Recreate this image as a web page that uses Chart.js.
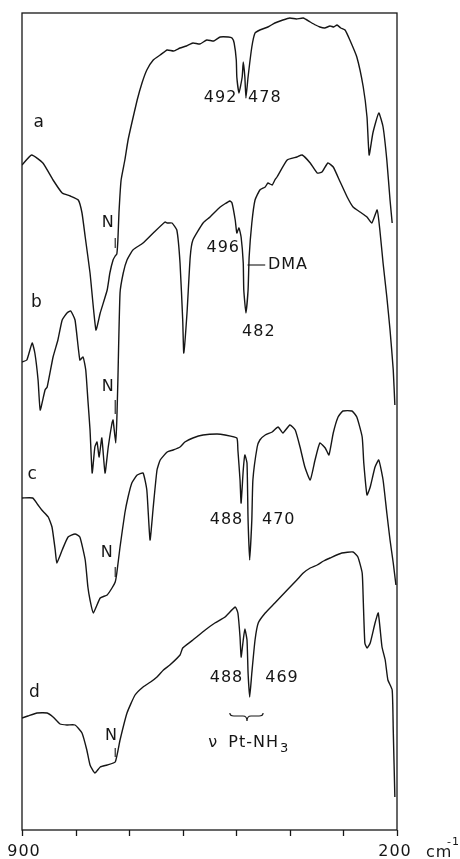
<!DOCTYPE html>
<html><head><meta charset="utf-8">
<script src="https://cdn.jsdelivr.net/npm/chart.js@4/dist/chart.umd.min.js"></script>
<style>html,body{margin:0;padding:0;background:#fff;}#wrap{width:460px;height:859px;}</style>
</head><body><div id="wrap"><canvas id="c" width="460" height="859"></canvas></div>
<script>
// Spectrum labels (categories)
const spectra = ['a', 'b', 'c', 'd'];

// Wavenumbers (cm-1) and relative transmittance (offset, arbitrary units) for each trace
const aWn  = [900,882,861,842,825,810,795,788,782,773,762,754,741,736,730,726,723,721,719,715,708,702,695,685,676,667,655,642,629,617,605,593,581,568,555,542,530,515,508,504,500,499,495,489,487,484,482,478,471,465,456,441,428,413,400,388,375,362,352,344,335,325,318,312,305,297,288,275,263,256,252,245,234,226,219,213,209];
const aVal = [665,675,667,650,637,634,630,617,593,557,500,517,540,557,570,574,576,590,617,650,670,690,707,730,747,760,770,775,780,779,782,784,787,786,790,789,793,793,792,787,770,753,737,753,768,753,732,753,783,797,800,803,807,810,812,811,812,808,805,803,802,804,803,805,802,800,790,773,743,713,675,697,717,703,670,630,607];

const bWn  = [900,891,881,876,870,866,857,853,842,833,825,816,809,801,792,786,781,777,773,769,764,760,756,751,745,739,732,730,725,723,721,717,711,704,693,674,655,633,629,620,611,605,600,598,592,586,581,562,549,530,512,508,502,499,495,491,487,486,482,478,476,471,465,456,446,441,433,428,424,405,387,377,362,349,340,329,319,306,293,282,269,256,247,237,232,226,219,213,207,204];
const bVal = [468,470,487,477,450,420,440,443,473,490,510,517,519,510,470,473,460,430,400,357,383,388,373,392,357,383,407,410,387,410,450,537,557,570,580,587,597,608,607,607,600,567,510,477,517,573,590,607,613,623,629,627,610,597,602,593,567,540,517,540,573,607,630,640,643,647,645,650,653,670,673,675,667,657,658,667,663,648,633,623,618,613,607,620,600,567,533,500,460,425];

const cWn  = [900,880,870,863,851,844,838,835,825,814,801,792,782,777,773,767,754,741,732,726,723,717,708,702,695,685,674,667,661,655,648,642,629,618,605,596,581,562,536,521,499,497,493,491,487,484,480,478,475,471,469,461,456,446,433,422,413,400,390,381,372,362,353,344,334,327,319,310,301,284,275,265,262,256,250,241,234,226,219,213,207,202];
const cVal = [332,332,325,320,313,303,280,267,280,293,296,293,270,243,230,217,232,235,242,248,257,283,317,333,347,355,357,340,290,323,360,370,378,380,383,388,392,395,396,395,392,380,350,327,360,375,367,310,270,310,350,383,390,395,398,403,397,405,400,383,363,350,370,387,382,375,397,413,419,419,413,393,367,335,343,363,370,350,317,290,267,245];

const dWn  = [900,889,872,853,842,829,816,801,788,779,773,764,754,741,726,717,704,689,674,660,648,636,624,605,600,581,558,540,521,502,497,493,491,487,484,480,478,475,471,465,459,446,428,405,387,375,362,349,337,325,303,282,273,265,263,260,256,250,241,235,228,222,217,209,207,204];
const dVal = [112,114,117,117,113,106,105,105,97,80,65,57,63,65,68,90,117,135,143,148,153,160,165,175,182,190,200,207,213,223,217,193,173,190,201,190,157,133,157,190,207,217,227,240,250,257,262,265,269,272,277,278,273,257,230,187,182,187,207,217,183,170,150,140,100,33];

// Axis tick labels and unit
const xTickLabels = ['900', '200'];
const xUnit = 'cm';
const xUnitExp = '-1';

// Annotation texts
const peakLabels = ['492', '478', '496', '482', '488', '470', '488', '469'];
const dmaLabel = 'DMA';
const nLabel = 'N';
const assignLabel = ['\u03BD', 'Pt-NH', '3'];

function pts(w, v) { return w.map((x, i) => ({ x: x, y: v[i] })); }
const series = [pts(aWn, aVal), pts(bWn, bVal), pts(cWn, cVal), pts(dWn, dVal)];

const INK = '#161616';
const FONT = '"DejaVu Sans", sans-serif';

const deco = {
  id: 'deco',
  afterDraw(chart) {
    const ctx = chart.ctx, A = chart.chartArea, xs = chart.scales.x, ys = chart.scales.y;
    const X = v => xs.getPixelForValue(v), Y = v => ys.getPixelForValue(v);
    ctx.save();
    ctx.strokeStyle = INK; ctx.fillStyle = INK; ctx.lineWidth = 1.3;
    // frame
    ctx.strokeRect(A.left, A.top, A.right - A.left, A.bottom - A.top);
    // ticks every 100 cm-1, pointing down
    for (let v = 200; v <= 900; v += 100) {
      const px = Math.round(X(v)) + 0.5;
      ctx.beginPath(); ctx.moveTo(px, A.bottom); ctx.lineTo(px, A.bottom + 6); ctx.stroke();
    }
    ctx.letterSpacing = '1px';
    const txt = (s, v, val, align, size) => {
      ctx.font = (size || 16) + 'px ' + FONT;
      ctx.textAlign = align || 'center'; ctx.textBaseline = 'middle';
      ctx.fillText(s, X(v), Y(val));
    };
    // axis labels
    ctx.font = '16px ' + FONT; ctx.textBaseline = 'middle'; ctx.textAlign = 'center';
    ctx.fillText(xTickLabels[0], X(900) + 2, A.bottom + 22);
    ctx.fillText(xTickLabels[1], X(200) - 2, A.bottom + 22);
    ctx.textAlign = 'left';
    ctx.fillText(xUnit, X(200) + 29, A.bottom + 23);
    ctx.font = '11px ' + FONT;
    ctx.fillText(xUnitExp, X(200) + 50, A.bottom + 12);
    // spectrum letters
    txt(spectra[0], 868, 707, 'center', 17);
    txt(spectra[1], 872, 527, 'center', 17);
    txt(spectra[2], 880, 355, 'center', 17);
    txt(spectra[3], 876, 137, 'center', 17);
    // peak labels
    txt(peakLabels[0], 498, 732, 'right');
    txt(peakLabels[1], 478, 732, 'left');
    txt(peakLabels[2], 493, 582, 'right');
    txt(peakLabels[3], 458, 498, 'center');
    txt(peakLabels[4], 487, 310, 'right');
    txt(peakLabels[5], 452, 310, 'left');
    txt(peakLabels[6], 487, 152, 'right');
    txt(peakLabels[7], 446, 152, 'left');
    // DMA leader
    ctx.lineWidth = 1.1;
    ctx.beginPath(); ctx.moveTo(X(479), Y(565)); ctx.lineTo(X(446), Y(565)); ctx.stroke();
    txt(dmaLabel, 441, 565, 'left');
    // N markers
    const nm = [[739, 607, 726, 592, 582], [739, 443, 726, 430, 416], [741, 277, 726, 263, 253], [733, 94, 726, 82, 73]];
    nm.forEach(m => {
      txt(nLabel, m[0], m[1], 'center', 16);
      ctx.beginPath(); ctx.moveTo(X(m[2]), Y(m[3])); ctx.lineTo(X(m[2]), Y(m[4])); ctx.stroke();
    });
    // brace under d doublet
    const bl = X(512), br = X(450), bm = X(480), by = Y(114);
    ctx.lineWidth = 1.2;
    ctx.beginPath();
    ctx.moveTo(bl, by - 3);
    ctx.quadraticCurveTo(bl, by, bl + 4, by);
    ctx.lineTo(bm - 4, by);
    ctx.quadraticCurveTo(bm, by, bm, by + 5);
    ctx.quadraticCurveTo(bm, by, bm + 4, by);
    ctx.lineTo(br - 4, by);
    ctx.quadraticCurveTo(br, by, br, by - 3);
    ctx.stroke();
    // assignment text
    txt(assignLabel[0], 543, 87, 'center', 16);
    ctx.font = '16px ' + FONT; ctx.textAlign = 'left'; ctx.textBaseline = 'middle';
    const px0 = X(515);
    ctx.fillText(assignLabel[1], px0, Y(87));
    const w = ctx.measureText(assignLabel[1]).width;
    ctx.font = '13px ' + FONT;
    ctx.fillText(assignLabel[2], px0 + w + 1, Y(87) + 6);
    ctx.restore();
  }
};

new Chart(document.getElementById('c'), {
  type: 'line',
  data: {
    datasets: series.map((d, i) => ({
      label: spectra[i], data: d, borderColor: INK, borderWidth: 1.4,
      pointRadius: 0, fill: false, tension: 0.15, cubicInterpolationMode: 'default'
    }))
  },
  options: {
    responsive: false, animation: false, devicePixelRatio: 1,
    layout: { padding: { left: 22, right: 63, top: 13, bottom: 29 } },
    plugins: { legend: { display: false }, tooltip: { enabled: false } },
    scales: {
      x: { type: 'linear', reverse: true, min: 200, max: 900, display: false },
      y: { type: 'linear', min: 0, max: 817, display: false }
    }
  },
  plugins: [deco]
});
</script>
</body></html>
